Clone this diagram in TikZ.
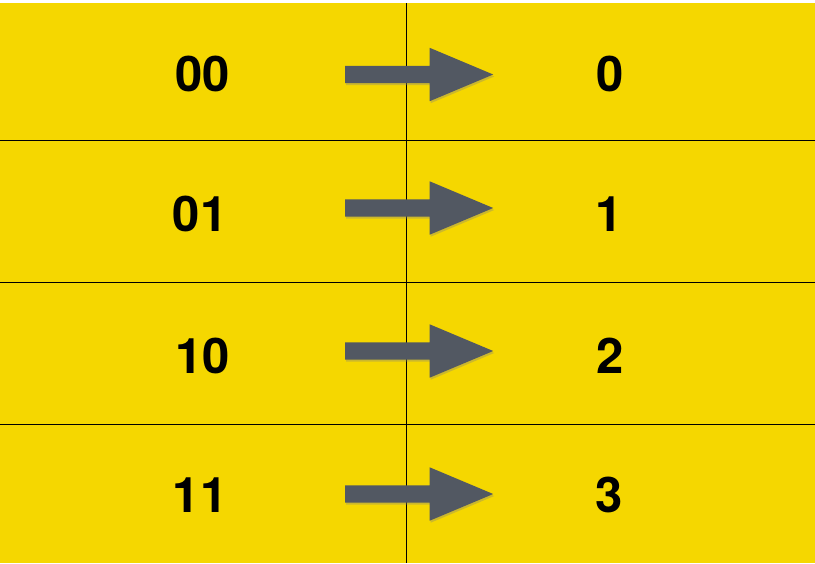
\documentclass[tikz,border=0pt]{standalone}
\usepackage{fontspec}
\setmainfont{TeX Gyre Heros}
\usetikzlibrary{positioning, shapes.arrows, shadows}

\definecolor{cellyellow}{RGB}{245,215,0}
\definecolor{arrowgray}{RGB}{82,88,98}

\begin{document}
\begin{tikzpicture}[
  x=1pt, y=-1pt,
  digit/.style={inner sep=0pt, font=\fontsize{49}{49}\selectfont\bfseries},
  maparrow/.style={single arrow, fill=arrowgray, draw=none, anchor=tail,
                   inner xsep=0pt, inner ysep=8.5pt,
                   minimum height=148pt, minimum width=53pt,
                   single arrow head extend=18pt, single arrow head indent=0pt,
                   single arrow tip angle=45.6,
                   drop shadow={opacity=0.35, shadow xshift=1pt, shadow yshift=-2pt}},
  grid/.style={line width=0.8pt, black},
]
\useasboundingbox (0,0) rectangle (815,563);

% Background
\fill[cellyellow] (0,3) rectangle (815,563);

% Grid
\coordinate (top) at (406.5,3);
\coordinate (bottom) at (406.5,563);
\draw[grid] (top) -- (bottom);
\foreach \y in {140.5,282,424} {
  \draw[grid] (0,\y) -- (815,\y);
}

% Inputs
\node[digit] (in00) at (202.5,74) {00};
\node[digit] (in01) at (200,214) {01};
\node[digit] (in10) at (202.5,356) {10};
\node[digit] (in11) at (200,495) {11};

% Outputs
\node[digit] (out0) at (610,74) {0};
\node[digit] (out1) at (609,214) {1};
\node[digit] (out2) at (610,356) {2};
\node[digit] (out3) at (609,495) {3};

% Arrows
\node[maparrow] (a0) at (345,74.5) {};
\node[maparrow] (a1) at (345,208) {};
\node[maparrow] (a2) at (345,351) {};
\node[maparrow] (a3) at (345,494) {};

\end{tikzpicture}
\end{document}
